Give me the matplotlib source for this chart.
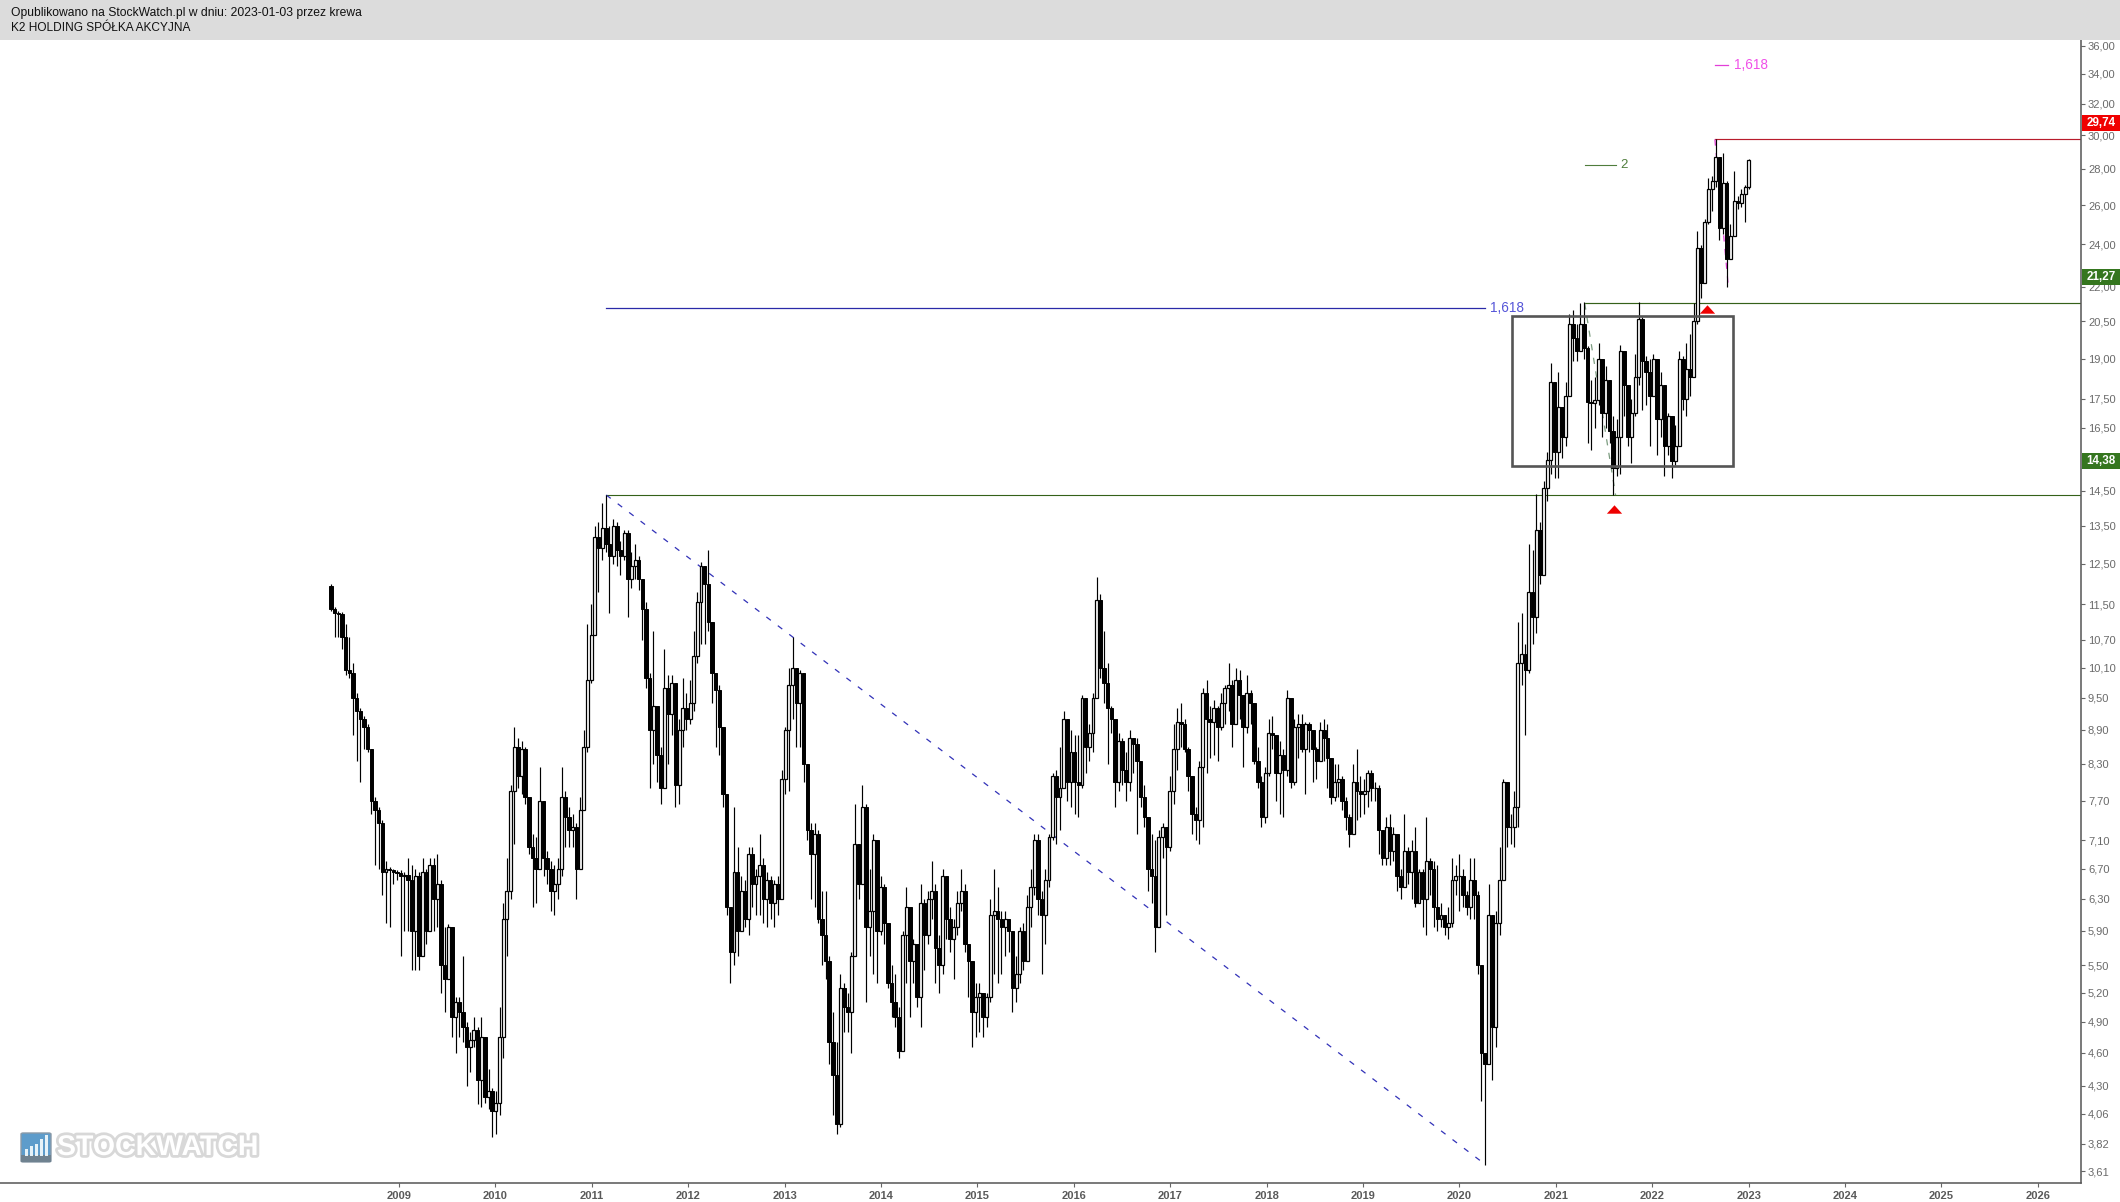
import numpy as np
import matplotlib
matplotlib.use('Agg')
import matplotlib.pyplot as plt
from matplotlib.patches import Rectangle, FancyBboxPatch
import matplotlib.patheffects as pe

plt.rcParams['font.family'] = ['Liberation Sans', 'DejaVu Sans']

W, H = 2120, 1202

# candle data, one bar about every two weeks
first_open = 11.95
start_year = 2008.295
bar_step = 0.038

closes = [
    11.40, 11.30, 11.28, 10.75, 10.05, 10.00, 9.50, 9.25, 9.10, 8.95,
    8.55, 7.70, 7.55, 7.35, 6.65, 6.70, 6.68, 6.66, 6.64, 6.60,
    6.62, 6.55, 5.90, 6.60, 5.60, 6.65, 5.90, 6.75, 6.30, 6.50,
    5.50, 5.35, 5.95, 4.95, 5.10, 5.00, 4.85, 4.65, 4.72, 4.82,
    4.35, 4.75, 4.20, 4.25, 4.08, 4.15, 4.75, 6.05, 6.40, 7.85,
    8.60, 8.10, 8.55, 7.75, 7.00, 6.85, 6.70, 7.70, 6.85, 6.70,
    6.40, 6.50, 6.70, 7.75, 7.45, 7.25, 7.30, 6.70, 7.55, 8.60,
    9.85, 10.80, 13.20, 12.90, 13.45, 13.00, 12.70, 13.50, 12.85, 12.70,
    13.30, 12.10, 12.45, 12.60, 12.10, 11.40, 9.90, 8.90, 9.35, 8.45,
    7.90, 9.70, 9.20, 9.80, 7.95, 8.90, 9.30, 9.10, 9.40, 10.35,
    11.55, 12.45, 12.00, 11.10, 10.00, 9.65, 8.95, 7.80, 6.20, 5.65,
    6.65, 5.90, 6.40, 6.05, 6.90, 6.50, 6.60, 6.75, 6.30, 6.55,
    6.25, 6.50, 6.30, 8.05, 8.90, 9.75, 10.10, 9.40, 10.00, 8.30,
    7.25, 6.90, 7.20, 6.05, 5.85, 5.55, 4.70, 4.40, 3.98, 5.25,
    5.05, 5.00, 5.60, 7.05, 6.50, 7.60, 5.95, 6.15, 7.10, 5.90,
    6.45, 6.00, 5.30, 5.10, 4.95, 4.62, 5.85, 6.20, 5.55, 5.75,
    5.15, 6.25, 5.85, 6.30, 6.40, 5.70, 5.50, 6.60, 6.05, 5.80,
    5.95, 6.25, 6.40, 5.75, 5.55, 5.00, 5.15, 5.20, 4.95, 5.15,
    6.10, 6.15, 6.05, 5.95, 6.05, 5.90, 5.25, 5.40, 5.90, 5.55,
    6.20, 6.45, 7.10, 6.30, 6.10, 6.55, 7.15, 8.10, 7.75, 7.90,
    9.10, 8.00, 8.50, 8.00, 7.95, 9.50, 8.60, 8.85, 9.50, 11.60,
    10.10, 9.80, 9.30, 9.10, 8.00, 8.70, 8.20, 8.00, 8.75, 8.65,
    8.35, 7.75, 7.45, 6.70, 6.60, 5.95, 7.15, 7.30, 7.00, 7.85,
    8.55, 9.05, 9.00, 8.55, 8.10, 7.50, 7.40, 8.25, 9.60, 9.10,
    9.05, 9.30, 8.95, 9.40, 9.70, 9.75, 9.00, 9.85, 9.55, 8.95,
    9.60, 9.40, 8.35, 8.00, 7.45, 8.15, 8.85, 8.80, 8.15, 8.45,
    8.20, 9.50, 8.00, 8.95, 9.00, 8.55, 9.00, 8.90, 8.55, 8.35,
    8.90, 8.75, 8.40, 7.75, 8.00, 8.05, 7.70, 7.45, 7.20, 8.00,
    7.85, 7.80, 7.85, 8.15, 7.90, 7.90, 7.25, 6.85, 7.30, 6.95,
    7.20, 6.60, 6.45, 6.95, 6.65, 6.95, 6.25, 6.65, 6.30, 6.80,
    6.70, 6.20, 6.05, 6.10, 5.95, 6.00, 6.55, 6.60, 6.60, 6.35,
    6.20, 6.55, 6.35, 5.50, 4.60, 4.50, 6.10, 4.85, 6.00, 6.55,
    8.00, 7.30, 7.30, 7.60, 10.20, 10.40, 10.05, 11.80, 11.20, 13.40,
    12.20, 14.60, 15.45, 18.10, 15.70, 17.20, 16.20, 17.60, 20.40, 19.80,
    19.30, 20.40, 19.40, 17.40, 17.35, 17.45, 19.00, 17.00, 18.20, 16.40,
    15.20, 16.20, 19.30, 18.00, 16.20, 17.00, 18.30, 20.60, 18.90, 18.50,
    17.60, 19.00, 16.80, 18.00, 15.90, 16.90, 15.40, 15.90, 19.00, 17.50,
    18.60, 18.30, 20.50, 23.80, 22.20, 25.10, 26.90, 27.30, 28.70, 24.80,
    27.20, 23.30, 24.40, 26.20, 26.10, 26.60, 27.00, 28.50,
]

highs = [
    12.00, 11.45, 11.35, 11.32, 11.05, 10.75, 10.20, 9.60, 9.30, 9.15,
    9.00, 8.55, 7.75, 7.60, 7.40, 6.80, 6.72, 6.70, 6.68, 6.68,
    6.65, 6.85, 6.75, 6.70, 6.65, 6.85, 6.70, 6.85, 6.85, 6.90,
    6.55, 5.95, 5.98, 5.95, 5.15, 5.15, 5.60, 4.90, 4.80, 4.95,
    4.85, 4.95, 4.75, 4.45, 4.28, 4.25, 5.05, 6.25, 6.85, 7.95,
    8.95, 8.75, 8.70, 8.60, 7.75, 7.20, 7.15, 8.25, 7.70, 6.95,
    6.80, 6.75, 6.85, 8.25, 7.85, 7.60, 7.50, 7.35, 7.75, 8.90,
    11.05, 11.50, 13.50, 13.60, 14.15, 14.38, 13.50, 13.70, 13.60, 13.10,
    13.40, 13.40, 12.80, 13.00, 12.70, 12.10, 11.55, 10.00, 10.90, 8.90,
    8.60, 10.50, 9.95, 9.95, 9.10, 9.10, 9.90, 9.60, 9.85, 10.90,
    11.80, 12.55, 12.05, 12.85, 11.10, 10.00, 9.75, 8.75, 7.80, 6.00,
    7.60, 7.00, 6.60, 6.55, 7.00, 7.00, 6.70, 7.20, 6.85, 6.65,
    6.60, 6.55, 6.60, 8.20, 8.95, 10.10, 10.75, 10.10, 10.05, 9.25,
    8.30, 7.35, 7.35, 7.25, 6.40, 6.40, 5.60, 5.00, 4.70, 5.40,
    5.30, 5.20, 5.65, 7.65, 7.00, 7.95, 7.65, 6.70, 7.20, 6.10,
    6.60, 6.50, 6.00, 5.50, 5.40, 5.05, 5.90, 6.45, 6.15, 5.80,
    5.65, 6.50, 6.30, 6.40, 6.80, 6.50, 5.85, 6.70, 6.60, 6.20,
    6.05, 6.40, 6.70, 6.50, 5.75, 5.25, 5.30, 5.30, 5.20, 5.20,
    6.30, 6.70, 6.45, 6.15, 6.15, 6.05, 5.90, 5.60, 5.95, 6.00,
    6.35, 6.70, 7.20, 7.20, 6.40, 6.70, 7.20, 8.15, 8.20, 8.60,
    9.25, 8.30, 8.90, 8.80, 8.80, 9.55, 9.00, 9.00, 9.60, 12.15,
    11.75, 10.90, 10.20, 9.35, 8.90, 8.85, 8.75, 8.50, 8.90, 8.75,
    8.75, 8.30, 7.95, 7.40, 7.20, 7.10, 7.25, 7.35, 7.30, 8.10,
    9.00, 9.30, 9.40, 9.10, 8.60, 8.10, 7.60, 8.35, 9.70, 9.85,
    9.35, 9.45, 9.35, 9.60, 9.75, 10.20, 9.85, 10.10, 10.05, 9.50,
    9.95, 9.65, 9.25, 8.60, 8.10, 8.25, 9.10, 9.15, 8.75, 8.70,
    8.55, 9.65, 9.40, 9.10, 9.20, 9.20, 9.05, 9.05, 8.90, 8.60,
    9.05, 9.10, 9.00, 8.40, 8.30, 8.30, 8.10, 7.75, 7.50, 8.30,
    8.55, 8.10, 8.05, 8.20, 8.20, 8.00, 7.95, 7.25, 7.45, 7.50,
    7.30, 6.95, 6.70, 7.50, 7.00, 7.10, 7.30, 6.70, 6.70, 7.45,
    6.85, 6.80, 6.75, 6.25, 6.10, 6.20, 6.85, 6.75, 6.90, 6.70,
    6.40, 6.85, 6.85, 6.40, 5.00, 4.60, 6.50, 5.75, 6.15, 7.00,
    8.05, 7.95, 7.50, 7.85, 11.10, 11.30, 10.60, 13.00, 12.85, 14.40,
    13.60, 14.80, 15.70, 18.85, 18.00, 18.50, 17.20, 18.10, 20.80, 21.00,
    20.40, 21.30, 21.35, 19.50, 18.20, 18.30, 19.60, 18.80, 18.70, 18.20,
    16.90, 16.80, 19.55, 19.30, 18.00, 17.50, 19.20, 21.35, 20.70, 19.10,
    19.00, 19.20, 19.00, 18.50, 17.70, 17.00, 16.90, 16.60, 19.30, 19.10,
    19.60, 20.00, 21.30, 24.65, 23.95, 25.30, 27.50, 27.60, 29.74, 28.60,
    28.90, 27.30, 25.00, 27.90, 26.50, 26.90, 27.10, 28.60,
]

lows = [
    11.35, 10.75, 10.75, 10.50, 9.95, 9.90, 8.80, 8.35, 8.00, 8.55,
    8.50, 7.50, 6.75, 6.70, 6.35, 6.00, 5.95, 6.50, 6.55, 5.60,
    5.90, 5.90, 5.45, 5.45, 5.45, 5.60, 5.75, 6.35, 5.90, 5.95,
    5.20, 5.00, 5.40, 4.75, 4.60, 4.75, 4.70, 4.30, 4.42, 4.65,
    4.14, 4.12, 4.15, 4.10, 3.87, 3.90, 4.05, 4.55, 5.60, 6.30,
    7.05, 7.90, 7.80, 7.65, 6.90, 6.20, 6.25, 6.85, 6.60, 6.50,
    6.15, 6.10, 6.30, 6.60, 7.00, 7.00, 7.00, 6.30, 7.00, 7.55,
    8.50, 9.80, 10.80, 11.80, 12.60, 12.80, 11.30, 12.50, 12.45, 12.20,
    12.60, 11.20, 11.90, 12.10, 11.85, 10.70, 9.70, 7.90, 8.30, 8.00,
    7.65, 7.90, 8.30, 8.80, 7.60, 7.65, 8.60, 8.90, 9.00, 9.25,
    10.20, 10.60, 10.60, 10.90, 9.40, 8.60, 8.45, 7.60, 6.10, 5.30,
    5.50, 5.60, 6.10, 5.95, 5.85, 6.20, 6.10, 6.10, 6.00, 5.95,
    6.05, 5.95, 6.10, 6.30, 7.80, 7.85, 9.10, 8.60, 8.60, 8.00,
    7.10, 6.30, 6.20, 6.00, 5.50, 5.35, 4.50, 4.05, 3.90, 3.95,
    4.80, 4.80, 4.60, 5.60, 6.30, 6.55, 5.10, 5.60, 5.40, 5.30,
    5.85, 5.75, 5.25, 4.95, 4.85, 4.55, 4.90, 5.30, 4.95, 5.30,
    5.05, 4.85, 5.45, 5.75, 6.05, 5.30, 5.20, 5.40, 5.80, 5.65,
    5.35, 5.85, 6.15, 5.65, 5.15, 4.65, 4.75, 4.80, 4.75, 4.85,
    5.10, 5.40, 5.30, 5.40, 5.60, 5.65, 5.00, 5.10, 5.30, 5.45,
    5.55, 5.95, 6.35, 6.10, 5.40, 5.75, 6.45, 7.10, 7.05, 7.25,
    7.90, 7.70, 7.60, 7.50, 7.45, 7.90, 8.15, 8.35, 8.50, 9.50,
    9.90, 9.40, 8.30, 8.85, 7.60, 7.85, 7.95, 7.70, 7.85, 8.15,
    7.20, 7.60, 7.30, 6.40, 6.25, 5.65, 5.95, 6.85, 6.10, 6.95,
    7.65, 8.20, 8.60, 8.50, 7.85, 7.20, 7.10, 7.05, 7.30, 8.15,
    8.40, 8.45, 8.35, 8.90, 9.00, 9.25, 8.60, 9.30, 9.10, 8.25,
    8.85, 9.00, 8.30, 7.90, 7.30, 7.35, 8.10, 8.55, 7.70, 7.50,
    7.45, 8.10, 7.90, 7.95, 8.40, 8.50, 7.80, 8.50, 8.00, 8.05,
    8.35, 8.35, 7.90, 7.65, 7.70, 7.75, 7.55, 7.25, 7.00, 7.20,
    7.40, 7.45, 7.50, 7.60, 7.70, 7.70, 6.90, 6.75, 6.75, 6.75,
    6.80, 6.40, 6.30, 6.55, 6.50, 6.30, 6.20, 6.30, 5.95, 5.85,
    6.35, 5.95, 5.90, 5.95, 5.85, 5.80, 5.95, 6.35, 6.15, 6.20,
    6.10, 6.05, 6.05, 5.40, 4.17, 3.66, 4.55, 4.35, 4.65, 5.85,
    6.90, 7.00, 7.05, 7.00, 7.30, 9.75, 8.80, 10.00, 10.60, 10.85,
    12.00, 13.00, 14.20, 15.00, 14.90, 14.90, 15.50, 15.90, 17.60, 18.90,
    18.90, 19.50, 19.00, 16.00, 15.75, 16.50, 17.30, 16.20, 16.50, 16.00,
    14.38, 14.95, 15.00, 16.90, 15.90, 15.35, 16.90, 18.00, 17.10, 17.30,
    15.90, 17.60, 15.60, 16.20, 14.95, 15.60, 14.90, 15.30, 15.90, 17.10,
    16.90, 17.60, 19.30, 20.40, 21.50, 22.20, 25.00, 25.70, 27.00, 24.20,
    24.50, 22.00, 23.30, 24.40, 25.80, 25.90, 25.10, 26.90,
]

year_ticks = list(range(2009, 2027))
price_ticks = [36, 34, 32, 30, 28, 26, 24, 22, 20.5, 19, 17.5, 16.5, 14.5, 13.5, 12.5,
               11.5, 10.7, 10.1, 9.5, 8.9, 8.3, 7.7, 7.1, 6.7, 6.3, 5.9, 5.5, 5.2,
               4.9, 4.6, 4.3, 4.06, 3.82, 3.61]

# drawn levels
top_level = 29.74
break_level = 21.27
old_high = 14.38
old_low = 3.66
fibo_blue = 21.07
fibo_green = 28.2
fibo_pink = 34.6
box_high, box_low = 20.73, 15.26

closes = np.array(closes)
highs = np.array(highs)
lows = np.array(lows)
opens = np.concatenate([[first_open], closes[:-1]])
years = start_year + np.arange(len(closes)) * bar_step

fig = plt.figure(figsize=(W / 100, H / 100), dpi=100, facecolor='white')
ax = fig.add_axes([0, (H - 1183) / H, 2081 / W, (1183 - 40) / H])
ax.set_yscale('log')
ax.set_xlim(2004.861, 2026.448)
ax.set_ylim(3.525, 36.44)

# wicks then bodies
ax.vlines(years, lows, highs, color='black', lw=0.85, zorder=3)
tops = np.maximum(opens, closes)
bottoms = np.minimum(opens, closes)
up = closes >= opens
ax.bar(years[up], (tops - bottoms)[up], bottom=bottoms[up], width=bar_step * 0.8,
       color='white', edgecolor='black', lw=0.9, zorder=4)
ax.bar(years[~up], (tops - bottoms)[~up], bottom=bottoms[~up], width=bar_step * 0.95,
       color='black', edgecolor='black', lw=0.7, zorder=4)

# horizontal levels
ax.plot([2022.65, 2026.448], [top_level, top_level], color='#b81c2c', lw=0.85, zorder=2)
ax.plot([2021.3, 2026.448], [break_level, break_level], color='#356119', lw=0.85, zorder=2)
ax.plot([2011.15, 2026.448], [old_high, old_high], color='#356119', lw=0.8, zorder=2)
ax.plot([2011.15, 2020.27], [fibo_blue, fibo_blue], color='#2a2aa8', lw=0.9, zorder=2)

# dashed fibo legs
ax.plot([2011.15, 2020.27], [old_high, old_low], color='#3232b8', lw=0.9, ls=(0, (4.5, 7)), zorder=2)
ax.plot([2021.3, 2021.62], [break_level, old_high], color='#7c9c80', lw=0.9, ls=(0, (5, 6)), zorder=2)
ax.plot([2022.65, 2022.79], [top_level, 22.0], color='#e23fd8', lw=0.9, ls=(0, (5, 6)), zorder=2)

ax.plot([2021.3, 2021.62], [fibo_green, fibo_green], color='#4f7d3c', lw=0.8)
ax.text(2021.67, fibo_green, '2', color='#4f7d3c', fontsize=9.5, va='center')
ax.plot([2022.65, 2022.79], [fibo_pink, fibo_pink], color='#e23fd8', lw=0.9)
ax.text(2022.85, fibo_pink, '1,618', color='#f050e8', fontsize=9.8, va='center')
ax.text(2020.32, fibo_blue, '1,618', color='#5555d8', fontsize=9.8, va='center')

# consolidation box
ax.add_patch(Rectangle((2020.546, box_low), 2022.84 - 2020.546, box_high - box_low,
                       fill=False, edgecolor='#555555', lw=1.9, zorder=6))

# red arrows
tri = [(-1, -0.55), (1, -0.55), (0, 0.55)]
ax.plot([2021.6, 2022.565], [13.97, 21.03], ls='', marker=tri, ms=11, color='#ee0000', mew=0, zorder=6)

# axes look
for s in ['top', 'left']:
    ax.spines[s].set_visible(False)
for s in ['right', 'bottom']:
    ax.spines[s].set_color('#555555')
    ax.spines[s].set_linewidth(1.1)
ax.yaxis.tick_right()
ax.set_yticks(price_ticks)
ax.set_yticklabels([f'{v:.2f}'.replace('.', ',') for v in price_ticks])
ax.yaxis.set_minor_locator(matplotlib.ticker.NullLocator())
ax.tick_params(axis='y', which='major', length=3, width=0.8, color='#666666',
               labelcolor='#6a6a6a', labelsize=8, pad=2)
ax.set_xticks(year_ticks)
ax.set_xticklabels(year_ticks, fontweight='bold')
ax.tick_params(axis='x', length=3, width=0.8, color='#666666',
               labelcolor='#5a5a5a', labelsize=8, pad=3)

# header band
fig.patches.append(Rectangle((0, 1 - 40 / H), 1, 40 / H, transform=fig.transFigure,
                             color='#dcdcdc', lw=0))
fig.text(11 / W, 1 - 13 / H, 'Opublikowano na StockWatch.pl w dniu: 2023-01-03 przez krewa',
         fontsize=8.72, color='#111111', va='center')
fig.text(11 / W, 1 - 28 / H, 'K2 HOLDING SPÓŁKA AKCYJNA', fontsize=8.6, color='#111111', va='center')

# value labels on the axis
for label, yc, col in [('29,74', 123, '#f00000'), ('21,27', 277, '#35761f'), ('14,38', 461, '#35761f')]:
    fig.patches.append(Rectangle((2082 / W, 1 - (yc + 8) / H), 38 / W, 16 / H,
                                 transform=fig.transFigure, color=col, lw=0, zorder=5))
    fig.text(2101 / W, 1 - yc / H, label, color='white', fontsize=8.4, fontweight='bold',
             ha='center', va='center', zorder=6)

# logo
fig.patches.append(FancyBboxPatch((21 / W, 1 - 1162 / H), 30 / W, 29 / H,
                                  boxstyle='round,pad=0,rounding_size=0.001',
                                  transform=fig.transFigure, facecolor='#5d9ccb',
                                  edgecolor='#8a9aa8', lw=1))
fig.patches.append(Rectangle((21 / W, 1 - 1162 / H), 30 / W, 7 / H, transform=fig.transFigure,
                             color='#6f8290', lw=0))
for bx, bh in [(25, 7), (30, 10), (35, 12), (40, 17), (45, 21)]:
    fig.patches.append(Rectangle((bx / W, 1 - 1156 / H), 3 / W, bh / H, transform=fig.transFigure,
                                 color='#e6f2f8', lw=0))
logo = fig.text(57 / W, 1 - 1148 / H, 'STOCKWATCH', color='white', fontsize=20.5, fontweight='bold',
                va='center')
logo.set_path_effects([pe.withStroke(linewidth=4, foreground='#c8c8c8', alpha=0.7)])

fig.savefig('out.png', dpi=100)
